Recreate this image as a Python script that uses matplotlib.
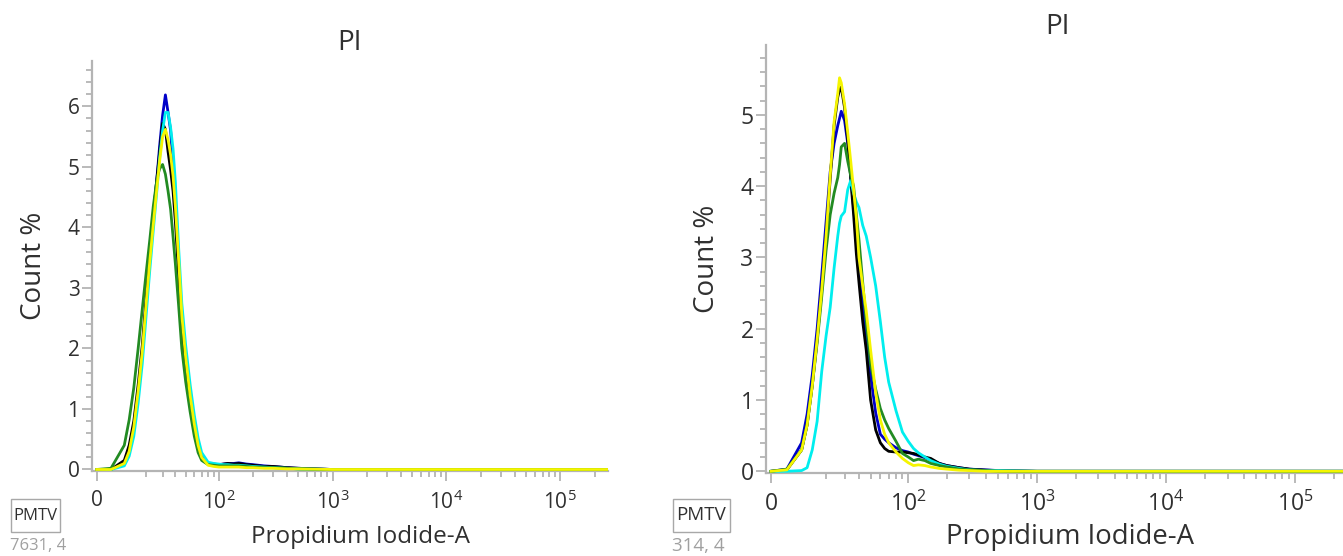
"""
Two-panel PI (propidium iodide) histogram overlay, FlowJo style.
"""

import numpy as np
import matplotlib
matplotlib.use('Agg')
import matplotlib.pyplot as plt
from matplotlib.ticker import FixedLocator, MultipleLocator
from matplotlib.patches import Rectangle

plt.rcParams.update({
    'font.family': ['Open Sans', 'DejaVu Sans'],
    'mathtext.fontset': 'custom',
    'mathtext.rm': 'Open Sans',
    'mathtext.it': 'Open Sans',
    'mathtext.bf': 'Open Sans',
    'axes.spines.top': False,
    'axes.spines.right': False,
})

# PI-A channel values shared by every histogram
PI_CHANNEL = [0, 5, 10, 12, 14, 16, 18, 20, 22, 24,
              26, 27, 28, 30, 32, 34, 36, 38, 40, 43,
              46, 50, 55, 60, 65, 70, 80, 90, 100, 110,
              120, 135, 150, 175, 200, 250, 300, 400, 500, 1000,
              262144]

# left sample (7631 events), Count %
L_BLUE = [0, 0, 0.10, 0.30, 0.68, 1.25, 1.90, 2.75, 3.50, 4.15,
          4.75, 5.05, 5.35, 5.85, 6.19, 5.90, 5.60, 5.05, 4.40, 3.35,
          2.45, 1.82, 1.22, 0.78, 0.43, 0.22, 0.10, 0.09, 0.08, 0.09,
          0.10, 0.10, 0.11, 0.09, 0.08, 0.06, 0.05, 0.03, 0.02, 0,
          0]
L_BLACK = [0, 0, 0.15, 0.40, 0.80, 1.40, 2.05, 2.85, 3.60, 4.20,
           4.75, 5.00, 5.25, 5.72, 5.62, 5.25, 4.95, 4.60, 4.10, 3.20,
           2.35, 1.75, 1.15, 0.72, 0.40, 0.20, 0.09, 0.08, 0.08, 0.09,
           0.10, 0.09, 0.10, 0.08, 0.07, 0.05, 0.05, 0.03, 0.02, 0,
           0]
L_CYAN = [0, 0, 0.06, 0.22, 0.55, 1.10, 1.75, 2.55, 3.30, 3.95,
          4.55, 4.85, 5.15, 5.60, 5.90, 5.90, 5.65, 5.30, 4.75, 3.65,
          2.75, 2.05, 1.40, 0.90, 0.52, 0.28, 0.12, 0.10, 0.09, 0.08,
          0.08, 0.07, 0.07, 0.06, 0.05, 0.04, 0.03, 0.02, 0.01, 0,
          0]
L_GREEN = [0, 0.02, 0.40, 0.82, 1.35, 2.00, 2.65, 3.25, 3.80, 4.35,
           4.75, 4.88, 4.97, 5.04, 4.88, 4.60, 4.30, 3.85, 3.40, 2.70,
           2.00, 1.45, 0.95, 0.55, 0.28, 0.15, 0.08, 0.07, 0.06, 0.06,
           0.06, 0.06, 0.06, 0.05, 0.04, 0.03, 0.03, 0.02, 0.01, 0,
           0]
L_YELLOW = [0, 0, 0.10, 0.30, 0.70, 1.30, 1.95, 2.75, 3.45, 4.05,
            4.60, 4.85, 5.10, 5.50, 5.62, 5.45, 5.20, 4.85, 4.35, 3.45,
            2.55, 1.85, 1.22, 0.75, 0.40, 0.20, 0.07, 0.05, 0.04, 0.04,
            0.04, 0.04, 0.04, 0.03, 0.03, 0.02, 0.02, 0.01, 0.01, 0,
            0]

# right sample (314 events), Count %
R_BLUE = [0, 0.03, 0.40, 0.80, 1.35, 2.00, 2.75, 3.50, 4.20, 4.60,
          4.85, 4.95, 5.05, 4.92, 4.60, 4.15, 3.70, 3.25, 2.85, 2.30,
          1.90, 1.35, 0.82, 0.52, 0.45, 0.40, 0.33, 0.29, 0.27, 0.24,
          0.22, 0.19, 0.16, 0.11, 0.08, 0.05, 0.03, 0.02, 0.01, 0,
          0]
R_BLACK = [0, 0.02, 0.30, 0.65, 1.20, 1.85, 2.55, 3.30, 4.10, 4.85,
           5.25, 5.35, 5.39, 5.10, 4.65, 4.10, 3.60, 3.05, 2.65, 2.10,
           1.70, 1.00, 0.58, 0.40, 0.32, 0.28, 0.27, 0.27, 0.26, 0.25,
           0.23, 0.20, 0.18, 0.11, 0.08, 0.05, 0.03, 0.015, 0.01, 0,
           0]
R_CYAN = [0, 0, 0.01, 0.05, 0.30, 0.70, 1.40, 1.90, 2.30, 2.85,
          3.30, 3.48, 3.58, 3.64, 3.95, 4.08, 3.90, 3.78, 3.70, 3.45,
          3.30, 3.00, 2.60, 2.10, 1.60, 1.25, 0.85, 0.55, 0.42, 0.32,
          0.26, 0.20, 0.15, 0.10, 0.07, 0.04, 0.02, 0.01, 0.01, 0,
          0]
R_GREEN = [0, 0.03, 0.30, 0.65, 1.20, 1.80, 2.45, 3.10, 3.60, 3.90,
           4.12, 4.30, 4.55, 4.60, 4.35, 4.15, 4.00, 3.60, 3.25, 2.65,
           2.10, 1.50, 1.15, 0.88, 0.72, 0.60, 0.42, 0.25, 0.20, 0.15,
           0.17, 0.15, 0.11, 0.08, 0.06, 0.03, 0.02, 0.01, 0, 0,
           0]
R_YELLOW = [0, 0.02, 0.30, 0.65, 1.20, 1.85, 2.55, 3.30, 4.15, 4.90,
            5.30, 5.52, 5.45, 5.15, 4.75, 4.35, 3.95, 3.55, 3.00, 2.60,
            2.25, 1.70, 1.10, 0.72, 0.52, 0.40, 0.27, 0.18, 0.12, 0.08,
            0.09, 0.08, 0.06, 0.04, 0.03, 0.015, 0.01, 0, 0, 0,
            0]

X_MAJOR = [0, 1e2, 1e3, 1e4, 1e5]
X_MAJOR_LABELS = ['0', '$10^2$', '$10^3$', '$10^4$', '$10^5$']
X_MINOR = ([20, 30, 40, 50, 60, 70, 80, 90]
           + [k * 10 ** e for e in (2, 3, 4) for k in range(2, 10)]
           + [2e5])

COLORS = {'blue': '#0000c8', 'black': '#000000', 'cyan': '#00eeee',
          'green': '#228b22', 'yellow': '#f5f500'}
AXIS_GRAY = '#b4b4b4'
TEXT = '#303030'


def biex(width):
    """arcsinh display transform, roughly FlowJo's biexponential axis."""
    ln10 = np.log(10)
    fwd = lambda x: np.arcsinh(np.asarray(x, dtype=float) / width) / ln10
    inv = lambda y: width * np.sinh(np.asarray(y, dtype=float) * ln10)
    return fwd, inv


fig = plt.figure(figsize=(13.43, 5.56), dpi=100)
W, H = 1343.0, 556.0

ax1 = fig.add_axes([92 / W, 1 - 470.7 / H, 516 / W, (470.7 - 61) / H])
ax2 = fig.add_axes([766 / W, 1 - 472.7 / H, 583 / W, (472.7 - 45) / H])

panels = [
    (ax1, [('blue', L_BLUE), ('black', L_BLACK), ('cyan', L_CYAN),
           ('green', L_GREEN), ('yellow', L_YELLOW)],
     17.0, -1.6, 6.75, 15, 20, 17.5, -0.162),
    (ax2, [('blue', R_BLUE), ('black', R_BLACK), ('cyan', R_CYAN),
           ('green', R_GREEN), ('yellow', R_YELLOW)],
     17.4, -1.55, 5.98, 16.5, 20, 19.8, -0.150),
]

for ax, series, width, xmin, ymax, tick_fs, label_fs, xlabel_fs, xlabel_y in panels:
    ax.set_xscale('function', functions=biex(width))
    for key, vals in series:
        ax.plot(PI_CHANNEL, vals, color=COLORS[key], lw=2.0, zorder=3,
                solid_joinstyle='round')
    ax.set_xlim(xmin, 262144)
    ax.set_ylim(-0.02, ymax)

    ax.xaxis.set_major_locator(FixedLocator(X_MAJOR))
    ax.set_xticklabels(X_MAJOR_LABELS)
    ax.xaxis.set_minor_locator(FixedLocator(X_MINOR))
    ax.set_yticks(range(0, int(ymax) + 1))
    ax.yaxis.set_minor_locator(MultipleLocator(0.2))

    for side in ('left', 'bottom'):
        ax.spines[side].set_color(AXIS_GRAY)
        ax.spines[side].set_linewidth(1.6)
        ax.spines[side].set_zorder(1)

    ax.tick_params(which='both', color=AXIS_GRAY, width=1.3, labelcolor=TEXT)
    ax.tick_params(which='major', length=7, labelsize=tick_fs)
    ax.tick_params(which='minor', length=4)
    ax.tick_params(axis='x', which='major', pad=7)
    ax.tick_params(axis='y', which='major', pad=2)

    ax.set_title('PI', fontsize=label_fs, color=TEXT, pad=8)
    ax.set_ylabel('Count %', fontsize=label_fs, color=TEXT, labelpad=14)
    ax.set_xlabel('Propidium Iodide-A', fontsize=xlabel_fs, color=TEXT, va='center')
    ax.xaxis.set_label_coords(0.521, xlabel_y)

# sample tags (gate name box + event count) in the lower left of each panel
TAGS = [('PMTV', '7631, 4', 11, 60, 12), ('PMTV', '314, 4', 673, 730, 13.5)]
for name, count, x0, x1, fs in TAGS:
    fig.patches.append(Rectangle((x0 / W, 1 - 532 / H), (x1 - x0) / W, 33 / H,
                                 transform=fig.transFigure, fill=False,
                                 ec='#a8a8a8', lw=1.0))
    fig.text((x0 + x1) / 2 / W, 1 - 515.5 / H, name, ha='center', va='center',
             fontsize=fs, color=TEXT)
    fig.text((x0 - 1) / W, 1 - 546 / H, count, ha='left', va='center',
             fontsize=fs, color='#a0a0a0')

fig.savefig('out.png', dpi=100)
